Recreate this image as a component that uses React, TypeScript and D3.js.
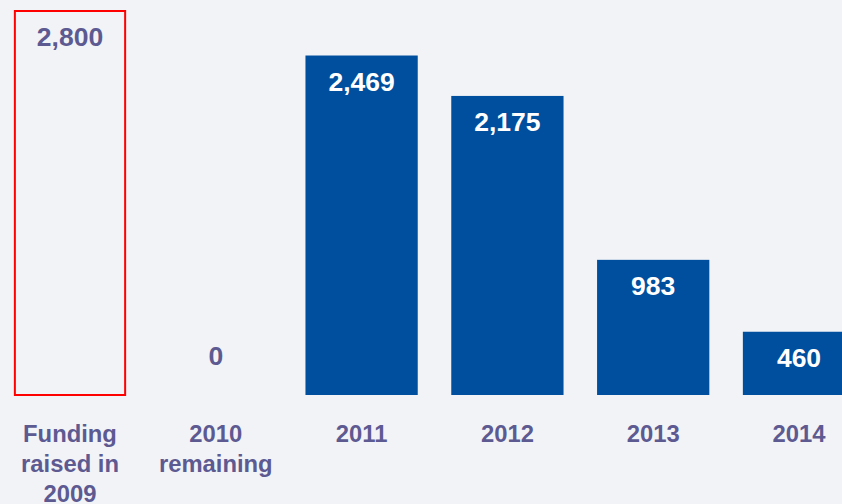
import React from "react";
import * as d3 from "d3";

const categories = ["Funding raised in 2009", "2010 remaining", "2011", "2012", "2013", "2014"];
const categoryLines = [["Funding", "raised in", "2009"], ["2010", "remaining"], ["2011"], ["2012"], ["2013"], ["2014"]];
const values = [2800, 0, 2469, 2175, 983, 460];
const valueLabels = ["2,800", "0", "2,469", "2,175", "983", "460"];

const W = 842;
const H = 504;
const BG = "#f2f3f6";
const BLUE = "#004f9e";
const PURPLE = "#5d5a92";
const FONT = "'Liberation Sans', Arial, sans-serif";

export default function App() {
  const x = d3
    .scaleBand<string>()
    .domain(categories)
    .range([-2.9, -2.9 + 6 * 145.8])
    .paddingInner(0.23)
    .paddingOuter(0.115);
  const y = d3.scaleLinear().domain([0, 2800]).range([395, 10]);

  return (
    <svg width={W} height={H} style={{ position: "absolute", left: 0, top: 0, background: BG }} fontFamily={FONT}>
      <rect x={0} y={0} width={W} height={H} fill={BG} />
      {categories.map((c, i) => {
        const x0 = x(c)!;
        const bw = x.bandwidth();
        const top = y(values[i]);
        const cx = x0 + bw / 2;
        const outlined = i === 0;
        return (
          <g key={c}>
            {outlined ? (
              <rect x={x0 + 1} y={top + 1} width={bw - 2} height={y(0) - top - 1} fill="none" stroke="#ff0000" strokeWidth={2} />
            ) : values[i] > 0 ? (
              <rect x={x0} y={top} width={bw} height={y(0) - top} fill={BLUE} />
            ) : null}
            <text
              x={cx}
              y={values[i] > 0 ? top + 35.5 : y(0) - 30.5}
              textAnchor="middle"
              fontSize={26.5}
              fontWeight="bold"
              fill={outlined || values[i] === 0 ? PURPLE : "#ffffff"}
            >
              {valueLabels[i]}
            </text>
            {categoryLines[i].map((line, j) => (
              <text key={j} x={cx} y={442 + j * 30} textAnchor="middle" fontSize={23.8} fontWeight="bold" fill={PURPLE}>
                {line}
              </text>
            ))}
          </g>
        );
      })}
    </svg>
  );
}
